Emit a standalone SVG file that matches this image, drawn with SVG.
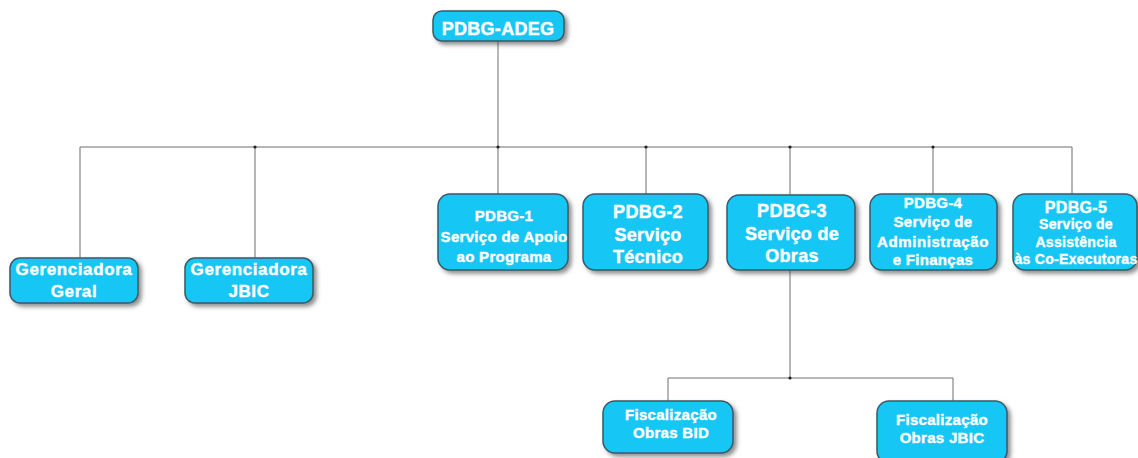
<svg xmlns="http://www.w3.org/2000/svg" width="1138" height="458" viewBox="0 0 1138 458">
<style>
.box{fill:#18C6F5;stroke:#3a5a66;stroke-width:1.5;filter:url(#sh)}
.t{fill:#ffffff;stroke:#ffffff;stroke-width:0.4;font-family:"Liberation Sans",Arial,sans-serif;font-weight:bold;text-anchor:middle;letter-spacing:0.3px}
.w{letter-spacing:0.6px}
.c{stroke:#6e6e6e;stroke-width:1;fill:none}
.d{fill:#222}
</style>
<defs>
<filter id="sh" x="-10%" y="-10%" width="130%" height="140%">
<feDropShadow dx="3" dy="3" stdDeviation="2" flood-color="#444" flood-opacity="0.6"/>
</filter>
</defs>
<rect width="1138" height="458" fill="#ffffff"/>
<g id="connectors">
<path class="c" d="M80,147H1072M80,147V258M255,147V258M498,41V194M646,147V194M790,147V195M933,147V194M1072,147V194"/>
<path class="c" d="M790,270V378M668,378H953M668,378V401M953,378V401"/>
<circle class="d" cx="255" cy="147" r="1.6"/>
<circle class="d" cx="498" cy="147" r="1.6"/>
<circle class="d" cx="646" cy="147" r="1.6"/>
<circle class="d" cx="790" cy="147" r="1.6"/>
<circle class="d" cx="933" cy="147" r="1.6"/>
<circle class="d" cx="790" cy="378" r="1.6"/>
</g>
<g id="root">
<rect class="box" x="433" y="11" width="131" height="30" rx="9"/>
<text class="t" x="498" y="35" font-size="18">PDBG-ADEG</text>
</g>
<g id="ger-geral">
<rect class="box" x="10" y="258" width="128" height="45" rx="10"/>
<text class="t w" x="74" y="275" font-size="17">Gerenciadora</text>
<text class="t w" x="74" y="297" font-size="17">Geral</text>
</g>
<g id="ger-jbic">
<rect class="box" x="185" y="258" width="128" height="45" rx="10"/>
<text class="t w" x="249" y="275" font-size="17">Gerenciadora</text>
<text class="t w" x="249" y="297" font-size="17">JBIC</text>
</g>
<g id="pdbg1">
<rect class="box" x="438" y="194" width="130" height="76" rx="12"/>
<text class="t" x="504" y="221" font-size="15">PDBG-1</text>
<text class="t" x="504" y="242" font-size="15">Serviço de Apoio</text>
<text class="t" x="504" y="262" font-size="15">ao Programa</text>
</g>
<g id="pdbg2">
<rect class="box" x="583" y="194" width="125" height="76" rx="12"/>
<text class="t" x="648" y="218" font-size="18">PDBG-2</text>
<text class="t" x="648" y="241" font-size="18">Serviço</text>
<text class="t" x="648" y="263" font-size="18">Técnico</text>
</g>
<g id="pdbg3">
<rect class="box" x="727" y="195" width="128" height="75" rx="12"/>
<text class="t" x="792" y="217" font-size="18">PDBG-3</text>
<text class="t" x="792" y="240" font-size="18">Serviço de</text>
<text class="t" x="792" y="262" font-size="18">Obras</text>
</g>
<g id="pdbg4">
<rect class="box" x="870" y="194" width="127" height="76" rx="12"/>
<text class="t" x="933" y="208" font-size="15">PDBG-4</text>
<text class="t" x="933" y="227" font-size="15">Serviço de</text>
<text class="t w" x="933" y="247" font-size="15">Administração</text>
<text class="t" x="933" y="265" font-size="15">e Finanças</text>
</g>
<g id="pdbg5">
<rect class="box" x="1013" y="194" width="124" height="76" rx="12"/>
<text class="t" x="1076" y="213" font-size="16">PDBG-5</text>
<text class="t" x="1076" y="229" font-size="14">Serviço de</text>
<text class="t" x="1076" y="247" font-size="14">Assistência</text>
<text class="t" x="1076" y="264" font-size="14">às Co-Executoras</text>
</g>
<g id="fisc-bid">
<rect class="box" x="603" y="401" width="130" height="52" rx="12"/>
<text class="t" x="671" y="420" font-size="15">Fiscalização</text>
<text class="t" x="671" y="438" font-size="15">Obras BID</text>
</g>
<g id="fisc-jbic">
<rect class="box" x="877" y="401" width="130" height="62" rx="12"/>
<text class="t" x="942" y="425" font-size="15">Fiscalização</text>
<text class="t" x="942" y="443" font-size="15">Obras JBIC</text>
</g>
</svg>
